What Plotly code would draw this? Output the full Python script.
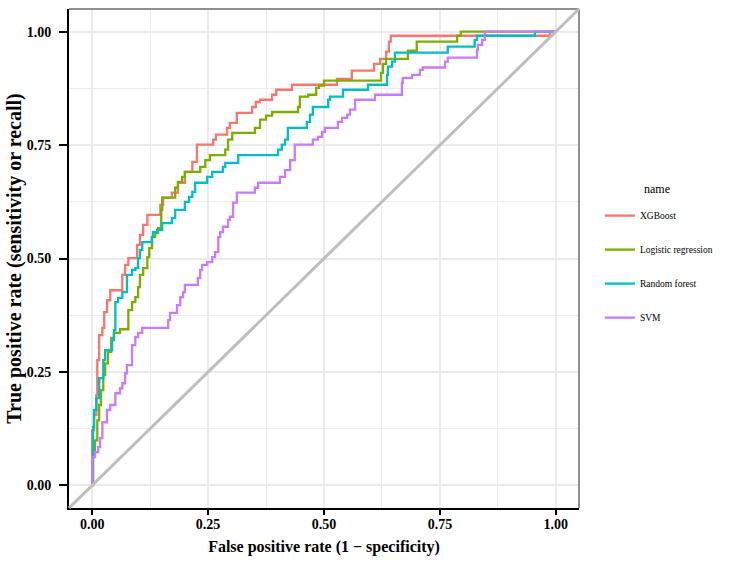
import plotly.graph_objects as go

# ROC step vertices (fpr, tpr)
xgb_fpr = [0, 0, 0.004, 0.009, 0.011, 0.015, 0.022, 0.026, 0.032, 0.039, 0.065, 0.071, 0.078, 0.097, 0.103, 0.110, 0.119, 0.147, 0.153, 0.172, 0.185, 0.200, 0.216, 0.226, 0.261, 0.267, 0.291, 0.297, 0.312, 0.345, 0.353, 0.362, 0.388, 0.397, 0.431, 0.528, 0.560, 0.608, 0.621, 0.634, 0.640, 0.644, 0.987, 1.0]
xgb_tpr = [0, 0.121, 0.155, 0.199, 0.276, 0.331, 0.347, 0.382, 0.408, 0.430, 0.464, 0.486, 0.501, 0.530, 0.552, 0.574, 0.596, 0.618, 0.634, 0.645, 0.667, 0.691, 0.713, 0.751, 0.762, 0.773, 0.788, 0.799, 0.821, 0.834, 0.845, 0.850, 0.861, 0.872, 0.883, 0.896, 0.914, 0.929, 0.940, 0.956, 0.978, 0.991, 1.0, 1.0]

lr_fpr = [0, 0.002, 0.006, 0.011, 0.015, 0.019, 0.024, 0.028, 0.034, 0.041, 0.047, 0.060, 0.078, 0.086, 0.093, 0.099, 0.103, 0.110, 0.119, 0.123, 0.129, 0.136, 0.142, 0.149, 0.151, 0.179, 0.185, 0.194, 0.200, 0.233, 0.244, 0.254, 0.287, 0.293, 0.302, 0.351, 0.362, 0.375, 0.388, 0.444, 0.448, 0.466, 0.483, 0.489, 0.500, 0.623, 0.627, 0.634, 0.681, 0.700, 0.787, 0.795, 1.0]
lr_tpr = [0, 0.066, 0.099, 0.143, 0.177, 0.210, 0.243, 0.269, 0.294, 0.325, 0.336, 0.344, 0.386, 0.404, 0.415, 0.437, 0.464, 0.479, 0.503, 0.523, 0.547, 0.556, 0.567, 0.607, 0.634, 0.656, 0.669, 0.680, 0.691, 0.702, 0.717, 0.728, 0.740, 0.762, 0.777, 0.788, 0.806, 0.815, 0.823, 0.834, 0.857, 0.861, 0.876, 0.881, 0.892, 0.909, 0.929, 0.940, 0.958, 0.978, 0.991, 1.0, 1.0]

rf_fpr = [0, 0, 0.002, 0.004, 0.009, 0.015, 0.024, 0.028, 0.043, 0.047, 0.050, 0.056, 0.065, 0.075, 0.086, 0.093, 0.099, 0.103, 0.108, 0.129, 0.131, 0.140, 0.151, 0.172, 0.179, 0.200, 0.209, 0.216, 0.222, 0.248, 0.259, 0.282, 0.287, 0.315, 0.401, 0.409, 0.416, 0.422, 0.463, 0.470, 0.476, 0.509, 0.513, 0.541, 0.595, 0.636, 0.638, 0.647, 0.653, 0.767, 0.825, 0.830, 0.955, 1.0]
rf_tpr = [0, 0.062, 0.128, 0.166, 0.192, 0.236, 0.276, 0.298, 0.320, 0.342, 0.404, 0.413, 0.426, 0.464, 0.475, 0.479, 0.501, 0.519, 0.536, 0.547, 0.558, 0.563, 0.578, 0.589, 0.607, 0.625, 0.636, 0.647, 0.667, 0.680, 0.691, 0.702, 0.711, 0.728, 0.740, 0.751, 0.762, 0.788, 0.801, 0.817, 0.834, 0.850, 0.857, 0.872, 0.883, 0.905, 0.923, 0.934, 0.954, 0.967, 0.982, 0.991, 1.0, 1.0]

svm_fpr = [0, 0, 0.006, 0.013, 0.017, 0.022, 0.032, 0.039, 0.050, 0.060, 0.065, 0.071, 0.075, 0.086, 0.093, 0.099, 0.108, 0.164, 0.168, 0.183, 0.190, 0.196, 0.200, 0.228, 0.233, 0.237, 0.248, 0.259, 0.265, 0.272, 0.276, 0.282, 0.293, 0.297, 0.304, 0.312, 0.351, 0.358, 0.405, 0.416, 0.427, 0.437, 0.476, 0.487, 0.496, 0.502, 0.530, 0.539, 0.550, 0.556, 0.567, 0.610, 0.668, 0.670, 0.690, 0.707, 0.713, 0.761, 0.767, 0.830, 0.832, 0.841, 0.847, 1.0]
svm_tpr = [0, 0.062, 0.073, 0.084, 0.104, 0.139, 0.166, 0.177, 0.203, 0.214, 0.225, 0.247, 0.265, 0.309, 0.327, 0.336, 0.347, 0.364, 0.380, 0.397, 0.415, 0.426, 0.442, 0.457, 0.475, 0.486, 0.492, 0.503, 0.514, 0.547, 0.558, 0.570, 0.585, 0.592, 0.623, 0.645, 0.656, 0.667, 0.680, 0.695, 0.717, 0.751, 0.762, 0.768, 0.779, 0.788, 0.801, 0.810, 0.817, 0.828, 0.850, 0.861, 0.887, 0.898, 0.905, 0.916, 0.921, 0.934, 0.943, 0.960, 0.971, 0.982, 1.0, 1.0]

names = ["XGBoost", "Logistic regression", "Random forest", "SVM"]
colors = ["#F8766D", "#7CAE00", "#00BFC4", "#C77CFF"]
series = [(xgb_fpr, xgb_tpr), (lr_fpr, lr_tpr), (rf_fpr, rf_tpr), (svm_fpr, svm_tpr)]

major_ticks = [0, 0.25, 0.5, 0.75, 1.0]
minor_ticks = [0.125, 0.375, 0.625, 0.875]
ax_range = [-0.05, 1.05]

SERIF = "Liberation Serif"

fig = go.Figure()
for (fx, ty), nm, col in zip(series, names, colors):
    fig.add_trace(go.Scatter(
        x=fx, y=ty, mode="lines", name=nm, legendgroup=nm,
        line=dict(color=col, width=2.3, shape="hv"),
    ))

axis_common = dict(
    range=ax_range, tickvals=major_ticks, tickformat=".2f",
    showgrid=True, gridcolor="#EBEBEB", gridwidth=1.5,
    minor=dict(tickvals=minor_ticks, showgrid=True, gridcolor="#EBEBEB", gridwidth=1, ticklen=0),
    showline=True, linecolor="black", linewidth=2,
    ticks="outside", tickwidth=2, tickcolor="black",
    tickfont=dict(family=SERIF, size=14, color="black", weight="bold"),
    zeroline=False, mirror=False, automargin=False,
)

fig.update_xaxes(**axis_common, ticklen=5, ticklabelstandoff=-3,
                 title=dict(text="False positive rate (1 − specificity)",
                            font=dict(family=SERIF, size=16, color="black", weight="bold"),
                            standoff=10))
fig.update_yaxes(**axis_common, ticklen=8, ticklabelstandoff=5,
                 title=dict(text="True positive rate (sensitivity or recall)",
                            font=dict(family=SERIF, size=20, color="black", weight="bold"),
                            standoff=0))

# panel border (top / right) and diagonal reference line
fig.add_shape(type="line", xref="paper", yref="paper", x0=0, y0=1, x1=1, y1=1,
              line=dict(color="#8F8F8F", width=2))
fig.add_shape(type="line", xref="paper", yref="paper", x0=1, y0=0, x1=1, y1=1,
              line=dict(color="#8F8F8F", width=2))
fig.add_shape(type="line", xref="paper", yref="paper", x0=0, y0=0, x1=1, y1=1,
              line=dict(color="#BEBEBE", width=3))

fig.add_annotation(text="name", xref="paper", yref="paper",
                   x=1.1235, y=0.64, xanchor="left", yanchor="middle", showarrow=False,
                   font=dict(family=SERIF, size=12, color="black"))

fig.update_layout(
    width=733, height=564,
    margin=dict(l=69, r=154, t=9, b=56),
    plot_bgcolor="white", paper_bgcolor="white",
    font=dict(family=SERIF, color="black"),
    legend=dict(
        font=dict(family=SERIF, size=9.5, color="black"),
        x=1.041, y=0.615, xanchor="left", yanchor="top",
        tracegroupgap=15, itemwidth=30, bgcolor="rgba(0,0,0,0)",
    ),
    showlegend=True,
)

fig.write_html("out.html", config={"displayModeBar": False},
               post_script="document.body.style.margin='0';document.body.style.padding='0';")
